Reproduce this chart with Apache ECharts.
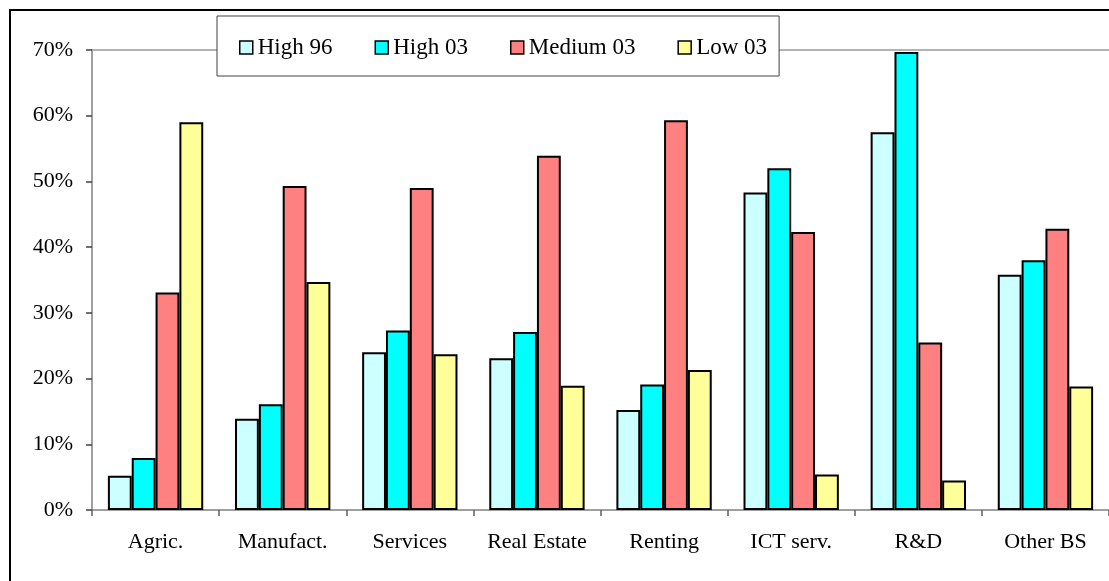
<!DOCTYPE html>
<html>
<head>
<meta charset="utf-8">
<script src="https://cdn.jsdelivr.net/npm/echarts@6/dist/echarts.min.js"></script>
<style>
html,body{margin:0;padding:0;background:#fff;}
#chart{width:1109px;height:581px;}
</style>
</head>
<body>
<div id="chart"></div>
<script>
const categories = ['Agric.', 'Manufact.', 'Services', 'Real Estate', 'Renting', 'ICT serv.', 'R&D', 'Other BS'];
const high96   = [5.2, 13.9, 24.0, 23.1, 15.2, 48.3, 57.5, 35.8];
const high03   = [7.9, 16.1, 27.3, 27.1, 19.1, 52.0, 69.7, 38.0];
const medium03 = [33.1, 49.3, 49.0, 53.9, 59.3, 42.3, 25.5, 42.8];
const low03    = [59.0, 34.7, 23.7, 18.9, 21.3, 5.4, 4.5, 18.8];
const seriesNames = ['High 96', 'High 03', 'Medium 03', 'Low 03'];
const seriesColors = ['#CCFFFF', '#00FFFF', '#FF8080', '#FFFF99'];
const yTicks = {min: 0, max: 70, interval: 10};

const FONT = "'Liberation Serif', 'Times New Roman', serif";
const chart = echarts.init(document.getElementById('chart'), null, {renderer: 'canvas'});
const dataSets = [high96, high03, medium03, low03];

chart.setOption({
  animation: false,
  backgroundColor: '#ffffff',
  graphic: [{
    type: 'rect',
    z: 100,
    silent: true,
    shape: {x: 10, y: 10, width: 1120, height: 620},
    style: {fill: 'none', stroke: '#000', lineWidth: 2}
  }],
  legend: {
    left: 217,
    top: 16,
    padding: [20, 12, 17, 22],
    itemGap: 42,
    itemWidth: 13,
    itemHeight: 13,
    icon: 'rect',
    backgroundColor: '#fff',
    borderColor: '#404040',
    borderWidth: 1,
    z: 10,
    textStyle: {fontFamily: FONT, fontSize: 23, color: '#000'},
    itemStyle: {borderColor: '#000', borderWidth: 1.5},
    data: seriesNames
  },
  grid: {
    left: 92,
    top: 50,
    width: 1020,
    height: 460
  },
  xAxis: [{
    type: 'category',
    data: categories,
    axisLine: {show: true, lineStyle: {color: '#808080', width: 1.5}},
    axisTick: {show: true, length: 6, lineStyle: {color: '#606060', width: 1.5}},
    axisLabel: {fontFamily: FONT, fontSize: 22, color: '#000', margin: 21, interval: 0},
    splitLine: {show: false}
  }, {
    type: 'category',
    position: 'top',
    data: categories,
    axisLine: {show: true, lineStyle: {color: '#9a9a9a', width: 1.5}},
    axisTick: {show: false},
    axisLabel: {show: false},
    splitLine: {show: false}
  }],
  yAxis: {
    type: 'value',
    min: yTicks.min,
    max: yTicks.max,
    interval: yTicks.interval,
    axisLine: {show: true, lineStyle: {color: '#808080', width: 1.5}},
    axisTick: {show: true, length: 6, lineStyle: {color: '#404040', width: 1.5}},
    axisLabel: {fontFamily: FONT, fontSize: 22, color: '#000', margin: 19, formatter: '{value}%'},
    splitLine: {show: false}
  },
  series: seriesNames.map((name, i) => ({
    name: name,
    type: 'bar',
    xAxisIndex: 0,
    data: dataSets[i],
    barGap: '0%',
    barCategoryGap: '25%',
    itemStyle: {color: seriesColors[i], borderColor: '#000', borderWidth: 2}
  }))
});
</script>
</body>
</html>
